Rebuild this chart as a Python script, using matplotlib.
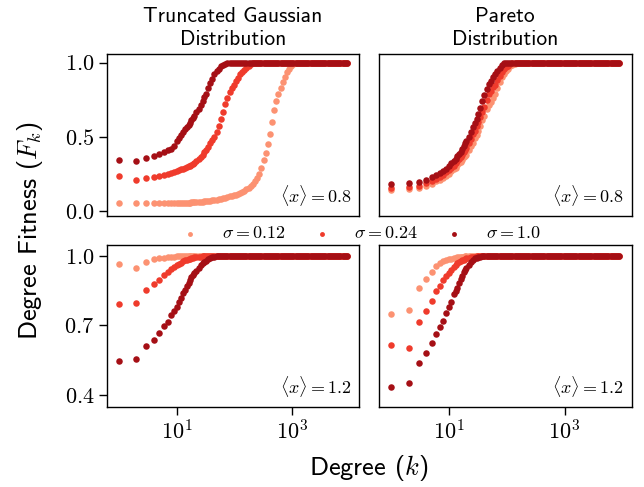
import matplotlib
matplotlib.use('Agg')
import matplotlib.pyplot as plt
import matplotlib.ticker as mticker

plt.rcParams['mathtext.fontset'] = 'cm'
plt.rcParams['font.family'] = 'serif'
plt.rcParams['font.serif'] = ['cmr10']
plt.rcParams['axes.unicode_minus'] = False
plt.rcParams['axes.formatter.use_mathtext'] = True

# degrees (k) shared by every series (92 values)
degrees = [1, 2, 3, 4, 5, 6, 7, 8, 9, 10,
           11, 12, 13, 14, 15, 16, 17, 18, 19, 20,
           22, 24, 26, 28, 30, 32, 35, 38, 41, 45,
           49, 53, 58, 63, 69, 75, 82, 89, 97, 106,
           115, 125, 136, 148, 161, 175, 191, 208, 226, 246,
           268, 292, 318, 346, 377, 410, 447, 487, 530, 577,
           628, 684, 745, 811, 883, 962, 1047, 1140, 1241, 1351,
           1471, 1602, 1744, 1899, 2068, 2252, 2452, 2670, 2907, 3165,
           3446, 3752, 4085, 4448, 4843, 5273, 5741, 6251, 6806, 7410,
           8068, 8785]

sigmas = ['0.12', '0.24', '1.0']
colors = ['#fc9272', '#ef3b2c', '#a50f15']
mean_labels = ['0.8', '1.2']
dist_titles = ['Truncated Gaussian\nDistribution', 'Pareto\nDistribution']

# Truncated Gaussian, <x> = 0.8
gauss08_s012 = [0.05, 0.05, 0.05, 0.05, 0.05, 0.051, 0.051, 0.052, 0.052, 0.053,
                0.053, 0.054, 0.054, 0.055, 0.055, 0.056, 0.056, 0.057, 0.057, 0.058,
                0.059, 0.06, 0.061, 0.062, 0.063, 0.064, 0.066, 0.068, 0.07, 0.072,
                0.075, 0.078, 0.082, 0.085, 0.089, 0.093, 0.097, 0.10, 0.105, 0.11,
                0.115, 0.12, 0.13, 0.135, 0.145, 0.155, 0.165, 0.18, 0.20, 0.22,
                0.25, 0.29, 0.34, 0.39, 0.45, 0.52, 0.60, 0.68, 0.74, 0.79,
                0.83, 0.87, 0.90, 0.935, 0.96, 0.98, 0.993, 0.999, 1.0, 1.0,
                1.0, 1.0, 1.0, 1.0, 1.0, 1.0, 1.0, 1.0, 1.0, 1.0,
                1.0, 1.0, 1.0, 1.0, 1.0, 1.0, 1.0, 1.0, 1.0, 1.0,
                1.0, 1.0]
gauss08_s024 = [0.234, 0.21, 0.22, 0.225, 0.232, 0.24, 0.25, 0.257, 0.265, 0.27,
                0.275, 0.28, 0.285, 0.29, 0.295, 0.30, 0.305, 0.31, 0.318, 0.325,
                0.335, 0.348, 0.362, 0.38, 0.395, 0.41, 0.43, 0.455, 0.475, 0.50,
                0.53, 0.57, 0.62, 0.67, 0.72, 0.76, 0.80, 0.83, 0.85, 0.875,
                0.895, 0.92, 0.935, 0.95, 0.965, 0.98, 0.99, 0.997, 1.0, 1.0,
                1.0, 1.0, 1.0, 1.0, 1.0, 1.0, 1.0, 1.0, 1.0, 1.0,
                1.0, 1.0, 1.0, 1.0, 1.0, 1.0, 1.0, 1.0, 1.0, 1.0,
                1.0, 1.0, 1.0, 1.0, 1.0, 1.0, 1.0, 1.0, 1.0, 1.0,
                1.0, 1.0, 1.0, 1.0, 1.0, 1.0, 1.0, 1.0, 1.0, 1.0,
                1.0, 1.0]
gauss08_s10 = [0.346, 0.335, 0.357, 0.372, 0.385, 0.395, 0.41, 0.42, 0.44, 0.47,
               0.49, 0.51, 0.53, 0.55, 0.565, 0.58, 0.595, 0.61, 0.625, 0.64,
               0.67, 0.69, 0.715, 0.74, 0.765, 0.79, 0.83, 0.86, 0.89, 0.92,
               0.945, 0.96, 0.975, 0.985, 0.993, 0.998, 1.0, 1.0, 1.0, 1.0,
               1.0, 1.0, 1.0, 1.0, 1.0, 1.0, 1.0, 1.0, 1.0, 1.0,
               1.0, 1.0, 1.0, 1.0, 1.0, 1.0, 1.0, 1.0, 1.0, 1.0,
               1.0, 1.0, 1.0, 1.0, 1.0, 1.0, 1.0, 1.0, 1.0, 1.0,
               1.0, 1.0, 1.0, 1.0, 1.0, 1.0, 1.0, 1.0, 1.0, 1.0,
               1.0, 1.0, 1.0, 1.0, 1.0, 1.0, 1.0, 1.0, 1.0, 1.0,
               1.0, 1.0]

# Pareto, <x> = 0.8
pareto08_s012 = [0.14, 0.145, 0.155, 0.165, 0.18, 0.20, 0.21, 0.22, 0.235, 0.25,
                 0.27, 0.28, 0.29, 0.31, 0.32, 0.33, 0.345, 0.36, 0.37, 0.38,
                 0.41, 0.435, 0.46, 0.49, 0.51, 0.54, 0.575, 0.61, 0.64, 0.69,
                 0.715, 0.735, 0.76, 0.79, 0.83, 0.87, 0.90, 0.925, 0.945, 0.96,
                 0.975, 0.985, 0.992, 0.997, 1.0, 1.0, 1.0, 1.0, 1.0, 1.0,
                 1.0, 1.0, 1.0, 1.0, 1.0, 1.0, 1.0, 1.0, 1.0, 1.0,
                 1.0, 1.0, 1.0, 1.0, 1.0, 1.0, 1.0, 1.0, 1.0, 1.0,
                 1.0, 1.0, 1.0, 1.0, 1.0, 1.0, 1.0, 1.0, 1.0, 1.0,
                 1.0, 1.0, 1.0, 1.0, 1.0, 1.0, 1.0, 1.0, 1.0, 1.0,
                 1.0, 1.0]
pareto08_s024 = [0.155, 0.16, 0.17, 0.185, 0.20, 0.215, 0.23, 0.245, 0.26, 0.275,
                 0.29, 0.305, 0.32, 0.335, 0.35, 0.365, 0.38, 0.40, 0.41, 0.425,
                 0.455, 0.485, 0.515, 0.54, 0.57, 0.60, 0.635, 0.67, 0.70, 0.75,
                 0.785, 0.81, 0.835, 0.85, 0.88, 0.91, 0.935, 0.955, 0.97, 0.98,
                 0.99, 0.997, 1.0, 1.0, 1.0, 1.0, 1.0, 1.0, 1.0, 1.0,
                 1.0, 1.0, 1.0, 1.0, 1.0, 1.0, 1.0, 1.0, 1.0, 1.0,
                 1.0, 1.0, 1.0, 1.0, 1.0, 1.0, 1.0, 1.0, 1.0, 1.0,
                 1.0, 1.0, 1.0, 1.0, 1.0, 1.0, 1.0, 1.0, 1.0, 1.0,
                 1.0, 1.0, 1.0, 1.0, 1.0, 1.0, 1.0, 1.0, 1.0, 1.0,
                 1.0, 1.0]
pareto08_s10 = [0.178, 0.185, 0.196, 0.21, 0.225, 0.24, 0.255, 0.27, 0.285, 0.30,
                0.32, 0.335, 0.35, 0.37, 0.385, 0.40, 0.42, 0.44, 0.455, 0.47,
                0.50, 0.535, 0.565, 0.59, 0.62, 0.65, 0.695, 0.74, 0.78, 0.82,
                0.855, 0.875, 0.90, 0.92, 0.945, 0.965, 0.985, 0.995, 0.999, 1.0,
                1.0, 1.0, 1.0, 1.0, 1.0, 1.0, 1.0, 1.0, 1.0, 1.0,
                1.0, 1.0, 1.0, 1.0, 1.0, 1.0, 1.0, 1.0, 1.0, 1.0,
                1.0, 1.0, 1.0, 1.0, 1.0, 1.0, 1.0, 1.0, 1.0, 1.0,
                1.0, 1.0, 1.0, 1.0, 1.0, 1.0, 1.0, 1.0, 1.0, 1.0,
                1.0, 1.0, 1.0, 1.0, 1.0, 1.0, 1.0, 1.0, 1.0, 1.0,
                1.0, 1.0]

# Truncated Gaussian, <x> = 1.2
gauss12_s012 = [0.965, 0.95, 0.976, 0.986, 0.99, 0.993, 0.995, 0.997, 0.998, 0.999,
                1.0, 1.0, 1.0, 1.0, 1.0, 1.0, 1.0, 1.0, 1.0, 1.0,
                1.0, 1.0, 1.0, 1.0, 1.0, 1.0, 1.0, 1.0, 1.0, 1.0,
                1.0, 1.0, 1.0, 1.0, 1.0, 1.0, 1.0, 1.0, 1.0, 1.0,
                1.0, 1.0, 1.0, 1.0, 1.0, 1.0, 1.0, 1.0, 1.0, 1.0,
                1.0, 1.0, 1.0, 1.0, 1.0, 1.0, 1.0, 1.0, 1.0, 1.0,
                1.0, 1.0, 1.0, 1.0, 1.0, 1.0, 1.0, 1.0, 1.0, 1.0,
                1.0, 1.0, 1.0, 1.0, 1.0, 1.0, 1.0, 1.0, 1.0, 1.0,
                1.0, 1.0, 1.0, 1.0, 1.0, 1.0, 1.0, 1.0, 1.0, 1.0,
                1.0, 1.0]
gauss12_s024 = [0.793, 0.796, 0.855, 0.878, 0.898, 0.918, 0.93, 0.942, 0.952, 0.96,
                0.966, 0.972, 0.977, 0.981, 0.984, 0.987, 0.989, 0.991, 0.993, 0.994,
                0.996, 0.997, 0.998, 0.999, 1.0, 1.0, 1.0, 1.0, 1.0, 1.0,
                1.0, 1.0, 1.0, 1.0, 1.0, 1.0, 1.0, 1.0, 1.0, 1.0,
                1.0, 1.0, 1.0, 1.0, 1.0, 1.0, 1.0, 1.0, 1.0, 1.0,
                1.0, 1.0, 1.0, 1.0, 1.0, 1.0, 1.0, 1.0, 1.0, 1.0,
                1.0, 1.0, 1.0, 1.0, 1.0, 1.0, 1.0, 1.0, 1.0, 1.0,
                1.0, 1.0, 1.0, 1.0, 1.0, 1.0, 1.0, 1.0, 1.0, 1.0,
                1.0, 1.0, 1.0, 1.0, 1.0, 1.0, 1.0, 1.0, 1.0, 1.0,
                1.0, 1.0]
gauss12_s10 = [0.548, 0.554, 0.61, 0.637, 0.666, 0.698, 0.717, 0.745, 0.764, 0.778,
               0.80, 0.82, 0.84, 0.855, 0.87, 0.882, 0.895, 0.91, 0.918, 0.925,
               0.937, 0.95, 0.96, 0.968, 0.975, 0.98, 0.988, 0.993, 0.996, 0.998,
               1.0, 1.0, 1.0, 1.0, 1.0, 1.0, 1.0, 1.0, 1.0, 1.0,
               1.0, 1.0, 1.0, 1.0, 1.0, 1.0, 1.0, 1.0, 1.0, 1.0,
               1.0, 1.0, 1.0, 1.0, 1.0, 1.0, 1.0, 1.0, 1.0, 1.0,
               1.0, 1.0, 1.0, 1.0, 1.0, 1.0, 1.0, 1.0, 1.0, 1.0,
               1.0, 1.0, 1.0, 1.0, 1.0, 1.0, 1.0, 1.0, 1.0, 1.0,
               1.0, 1.0, 1.0, 1.0, 1.0, 1.0, 1.0, 1.0, 1.0, 1.0,
               1.0, 1.0]

# Pareto, <x> = 1.2
pareto12_s012 = [0.75, 0.766, 0.863, 0.90, 0.932, 0.957, 0.968, 0.977, 0.982, 0.986,
                 0.989, 0.991, 0.993, 0.995, 0.996, 0.997, 0.998, 0.998, 0.999, 1.0,
                 1.0, 1.0, 1.0, 1.0, 1.0, 1.0, 1.0, 1.0, 1.0, 1.0,
                 1.0, 1.0, 1.0, 1.0, 1.0, 1.0, 1.0, 1.0, 1.0, 1.0,
                 1.0, 1.0, 1.0, 1.0, 1.0, 1.0, 1.0, 1.0, 1.0, 1.0,
                 1.0, 1.0, 1.0, 1.0, 1.0, 1.0, 1.0, 1.0, 1.0, 1.0,
                 1.0, 1.0, 1.0, 1.0, 1.0, 1.0, 1.0, 1.0, 1.0, 1.0,
                 1.0, 1.0, 1.0, 1.0, 1.0, 1.0, 1.0, 1.0, 1.0, 1.0,
                 1.0, 1.0, 1.0, 1.0, 1.0, 1.0, 1.0, 1.0, 1.0, 1.0,
                 1.0, 1.0]
pareto12_s024 = [0.616, 0.604, 0.715, 0.761, 0.805, 0.847, 0.871, 0.895, 0.912, 0.928,
                 0.94, 0.952, 0.961, 0.968, 0.973, 0.978, 0.982, 0.985, 0.988, 0.99,
                 0.993, 0.995, 0.997, 0.998, 0.999, 1.0, 1.0, 1.0, 1.0, 1.0,
                 1.0, 1.0, 1.0, 1.0, 1.0, 1.0, 1.0, 1.0, 1.0, 1.0,
                 1.0, 1.0, 1.0, 1.0, 1.0, 1.0, 1.0, 1.0, 1.0, 1.0,
                 1.0, 1.0, 1.0, 1.0, 1.0, 1.0, 1.0, 1.0, 1.0, 1.0,
                 1.0, 1.0, 1.0, 1.0, 1.0, 1.0, 1.0, 1.0, 1.0, 1.0,
                 1.0, 1.0, 1.0, 1.0, 1.0, 1.0, 1.0, 1.0, 1.0, 1.0,
                 1.0, 1.0, 1.0, 1.0, 1.0, 1.0, 1.0, 1.0, 1.0, 1.0,
                 1.0, 1.0]
pareto12_s10 = [0.432, 0.45, 0.54, 0.581, 0.623, 0.665, 0.695, 0.721, 0.754, 0.779,
                0.802, 0.837, 0.85, 0.864, 0.882, 0.90, 0.915, 0.93, 0.94, 0.948,
                0.96, 0.975, 0.983, 0.99, 0.993, 0.996, 0.998, 0.999, 1.0, 1.0,
                1.0, 1.0, 1.0, 1.0, 1.0, 1.0, 1.0, 1.0, 1.0, 1.0,
                1.0, 1.0, 1.0, 1.0, 1.0, 1.0, 1.0, 1.0, 1.0, 1.0,
                1.0, 1.0, 1.0, 1.0, 1.0, 1.0, 1.0, 1.0, 1.0, 1.0,
                1.0, 1.0, 1.0, 1.0, 1.0, 1.0, 1.0, 1.0, 1.0, 1.0,
                1.0, 1.0, 1.0, 1.0, 1.0, 1.0, 1.0, 1.0, 1.0, 1.0,
                1.0, 1.0, 1.0, 1.0, 1.0, 1.0, 1.0, 1.0, 1.0, 1.0,
                1.0, 1.0]


def main():
    panels = [[[gauss08_s012, gauss08_s024, gauss08_s10],
               [pareto08_s012, pareto08_s024, pareto08_s10]],
              [[gauss12_s012, gauss12_s024, gauss12_s10],
               [pareto12_s012, pareto12_s024, pareto12_s10]]]

    fig, axes = plt.subplots(nrows=2, ncols=2, figsize=(6.44, 4.87), dpi=100)
    fig.subplots_adjust(left=0.1657, right=0.9807, top=0.8885, bottom=0.1649,
                        wspace=0.078, hspace=0.179)

    for row in range(2):
        for col in range(2):
            ax = axes[row, col]
            for series, color, sigma in zip(panels[row][col], colors, sigmas):
                ax.scatter(degrees, series, s=22, color=color, linewidths=0,
                           label=rf'$\sigma = {sigma}$')
            ax.set_xscale('log')
            ax.set_xlim(10 ** -0.211, 10 ** 4.159)
            ax.xaxis.set_major_locator(mticker.FixedLocator([10, 1000]))
            ax.xaxis.set_minor_locator(mticker.NullLocator())
            ax.tick_params(axis='both', which='major', length=6, width=1.0,
                           labelsize=16, pad=3)
            ax.text(0.97, 0.05, r'$\langle x \rangle = %s$' % mean_labels[row],
                    transform=ax.transAxes, ha='right', va='bottom', fontsize=13)
            if row == 0:
                ax.set_ylim(-0.035, 1.056)
                ax.set_yticks([0.0, 0.5, 1.0])
                ax.tick_params(axis='x', bottom=False, labelbottom=False)
                ax.set_title(dist_titles[col], fontfamily='cmss10',
                             fontsize=15.5, pad=7, linespacing=1.25)
            else:
                ax.set_ylim(0.349, 1.048)
                ax.set_yticks([0.4, 0.7, 1.0])
            if col == 1:
                ax.tick_params(axis='y', left=False, labelleft=False)
            for spine in ax.spines.values():
                spine.set_linewidth(1.0)

    handles, labels = axes[0, 0].get_legend_handles_labels()
    fig.legend(handles, labels, loc='center', bbox_to_anchor=(0.5536, 0.521),
               ncol=3, frameon=False, fontsize=13, markerscale=0.75,
               handletextpad=0.8, columnspacing=0.95, borderpad=0)

    fig.text(0.047, 0.527, r'Degree Fitness ($F_k$)', rotation=90,
             ha='center', va='center', fontfamily='cmss10', fontsize=19)
    fig.text(0.573, 0.04, r'Degree ($k$)', ha='center', va='center',
             fontfamily='cmss10', fontsize=19)

    fig.savefig('out.png', dpi=100)


if __name__ == '__main__':
    main()
